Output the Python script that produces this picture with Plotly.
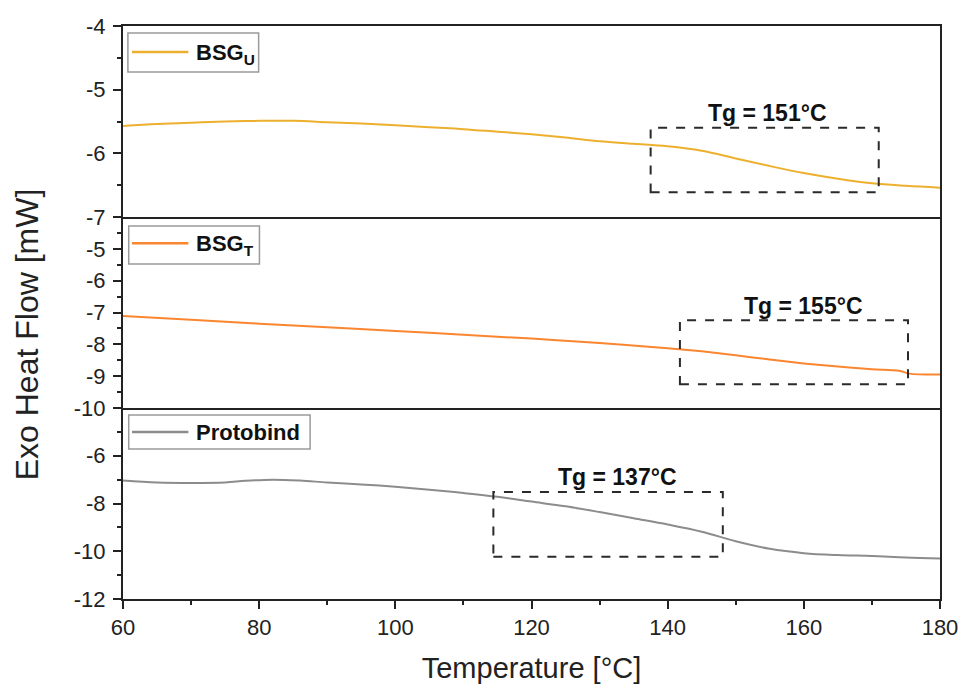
import plotly.graph_objects as go
from plotly.subplots import make_subplots

# Temperature grid [°C]
temp_u = [60, 65, 70, 75, 80, 85, 90, 95, 100, 105, 110, 115, 120, 125, 130, 135, 140, 145,
          150, 155, 160, 165, 170, 175, 180]
# Exo heat flow [mW] for each sample
flow_bsg_u = [-5.57, -5.54, -5.52, -5.50, -5.49, -5.49, -5.51, -5.53, -5.56, -5.59, -5.62, -5.66,
              -5.70, -5.75, -5.81, -5.85, -5.89, -5.96, -6.08, -6.20, -6.31, -6.40, -6.47, -6.51, -6.54]

temp_t = [60, 70, 80, 90, 100, 110, 120, 130, 140, 145, 150, 155, 160, 165, 170, 174, 175.5, 180]
flow_bsg_t = [-7.11, -7.23, -7.35, -7.46, -7.58, -7.70, -7.82, -7.96, -8.12, -8.22, -8.34, -8.48,
              -8.60, -8.70, -8.78, -8.83, -8.92, -8.95]

temp_p = [60, 65, 70, 75, 78, 82, 86, 90, 95, 100, 105, 110, 115, 120, 125, 130, 135, 140,
          145, 150, 155, 160, 165, 170, 175, 180]
flow_protobind = [-7.04, -7.12, -7.14, -7.12, -7.05, -7.00, -7.04, -7.12, -7.20, -7.30, -7.42, -7.56,
                  -7.72, -7.92, -8.12, -8.36, -8.62, -8.88, -9.18, -9.58, -9.90, -10.08, -10.16,
                  -10.20, -10.26, -10.30]

# Glass transition markers: label, dashed box (x0, x1, y0, y1) and label position
tg_labels = ["Tg = 151°C", "Tg = 155°C", "Tg = 137°C"]
tg_boxes = [(137.5, 171.0, -6.61, -5.60),
            (141.8, 175.3, -9.25, -7.24),
            (114.4, 148.1, -10.23, -7.52)]
tg_text_pos = [(154.7, -5.37), (160.0, -6.78), (132.6, -6.90)]

names = ["BSG<sub>U</sub>", "BSG<sub>T</sub>", "Protobind"]
colors = ["#EDB02E", "#FA8630", "#8C8C8C"]
y_ranges = [[-7, -4], [-10, -4], [-12, -4]]
y_ticks = [[-4, -5, -6, -7], [-5, -6, -7, -8, -9, -10], [-6, -8, -10, -12]]
y_minor = [0.5, 0.5, 1]
x_ticks = [60, 80, 100, 120, 140, 160, 180]

FONT = "Arial, Liberation Sans, sans-serif"
AXIS_COLOR = "#222"

fig = make_subplots(rows=3, cols=1, shared_xaxes=True, vertical_spacing=0)

series = [(temp_u, flow_bsg_u), (temp_t, flow_bsg_t), (temp_p, flow_protobind)]
for i, (xs, ys) in enumerate(series):
    fig.add_trace(go.Scatter(x=xs, y=ys, mode="lines", name=names[i], showlegend=False,
                             line=dict(color=colors[i], width=2, shape="spline")),
                  row=i + 1, col=1)

for i in range(3):
    row = i + 1
    fig.update_yaxes(range=y_ranges[i], tickvals=y_ticks[i],
                     ticktext=[str(v) for v in y_ticks[i]], row=row, col=1,
                     showline=True, linecolor=AXIS_COLOR, linewidth=2, mirror=True,
                     ticks="outside", ticklen=8, tickwidth=2, tickcolor=AXIS_COLOR,
                     ticklabelstandoff=3, automargin=False,
                     minor=dict(dtick=y_minor[i], ticks="outside", ticklen=4, tickwidth=2,
                                tickcolor=AXIS_COLOR, showgrid=False),
                     showgrid=False, zeroline=False,
                     tickfont=dict(family=FONT, size=22, color="#222"))
    fig.update_xaxes(range=[60, 180], row=row, col=1, showline=True, linecolor=AXIS_COLOR,
                     linewidth=2, mirror=(row == 1), showgrid=False, zeroline=False,
                     automargin=False,
                     ticks="outside" if row == 3 else "", showticklabels=(row == 3),
                     tickvals=x_ticks, ticktext=[str(v) for v in x_ticks],
                     ticklen=8, tickwidth=2, tickcolor=AXIS_COLOR,
                     minor=dict(dtick=10, ticks="outside" if row == 3 else "", ticklen=4,
                                tickwidth=2, tickcolor=AXIS_COLOR, showgrid=False),
                     tickfont=dict(family=FONT, size=22, color="#222"))

fig.update_xaxes(title=dict(text="Temperature [°C]", font=dict(family=FONT, size=29, color="#222"),
                            standoff=22), row=3, col=1)

# Dashed Tg boxes and labels
for i in range(3):
    xr = "x" if i == 0 else f"x{i + 1}"
    yr = "y" if i == 0 else f"y{i + 1}"
    x0, x1, y0, y1 = tg_boxes[i]
    fig.add_shape(type="rect", xref=xr, yref=yr, x0=x0, x1=x1, y0=y0, y1=y1,
                  line=dict(color="#2a2a2a", width=2, dash="dash"))
    tx, ty = tg_text_pos[i]
    fig.add_annotation(x=tx, y=ty, xref=xr, yref=yr, text=f"<b>{tg_labels[i]}</b>",
                       showarrow=False, font=dict(family=FONT, size=23, color="#111"))

# Per-panel legend boxes (domain coordinates of each panel)
legend_boxes = [(0.006, 0.166, 0.759, 0.963),
                (0.007, 0.167, 0.754, 0.953),
                (0.007, 0.229, 0.785, 0.963)]
legend_line_y = [0.864, 0.862, 0.874]
for i in range(3):
    xd = "x domain" if i == 0 else f"x{i + 1} domain"
    yd = "y domain" if i == 0 else f"y{i + 1} domain"
    bx0, bx1, by0, by1 = legend_boxes[i]
    fig.add_shape(type="rect", xref=xd, yref=yd, x0=bx0, x1=bx1, y0=by0, y1=by1,
                  line=dict(color="#9a9a9a", width=1.5), fillcolor="white", layer="above")
    ly = legend_line_y[i]
    fig.add_shape(type="line", xref=xd, yref=yd, x0=0.011, x1=0.080, y0=ly, y1=ly,
                  line=dict(color=colors[i], width=2.5), layer="above")
    fig.add_annotation(x=0.087, y=ly, xref=xd, yref=yd, xanchor="left", yanchor="middle",
                       text=f"<b>{names[i]}</b>", showarrow=False,
                       yshift=-2 if i < 2 else 0,
                       font=dict(family=FONT, size=22, color="#111"))

# Shared y-axis title
fig.add_annotation(text="Exo Heat Flow [mW]", xref="paper", yref="paper", x=0, y=0.462,
                   xanchor="center", yanchor="middle",
                   xshift=-96, textangle=-90, showarrow=False,
                   font=dict(family=FONT, size=32, color="#222"))

fig.update_layout(
    width=961, height=684,
    margin=dict(l=123, r=21, t=26, b=85),
    paper_bgcolor="white", plot_bgcolor="white",
    showlegend=False,
)

fig.write_html("out.html")
